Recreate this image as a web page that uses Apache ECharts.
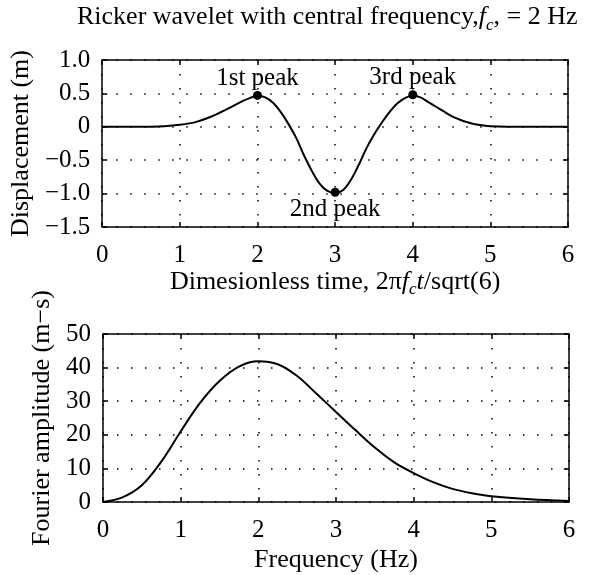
<!DOCTYPE html>
<html>
<head>
<meta charset="utf-8">
<script src="https://cdn.jsdelivr.net/npm/echarts@6/dist/echarts.min.js"></script>
<style>
  html, body { margin: 0; padding: 0; background: #fff; }
  #chart { width: 594px; height: 575px; }
</style>
</head>
<body>
<div id="chart"></div>
<script>
// top panel: ricker wavelet vs dimensionless time
var timeX = [0, 0.5, 0.8, 1.0, 1.2, 1.4, 1.6, 1.8, 1.9, 2.0, 2.1, 2.2, 2.3, 2.4, 2.5, 2.6, 2.7, 2.8, 2.9, 3.0,
             3.1, 3.2, 3.3, 3.4, 3.5, 3.6, 3.7, 3.8, 3.9, 4.0, 4.1, 4.2, 4.3, 4.4, 4.5, 4.6, 4.7, 4.8, 5.0, 5.5, 6.0];
var displacement = [0, 0, 0.01, 0.03, 0.07, 0.15, 0.26, 0.38, 0.43, 0.46, 0.44, 0.36, 0.22, 0.04, -0.17, -0.43, -0.66, -0.85, -0.96, -0.99,
                    -0.95, -0.80, -0.58, -0.33, -0.12, 0.06, 0.22, 0.35, 0.43, 0.47, 0.44, 0.37, 0.30, 0.23, 0.16, 0.11, 0.07, 0.04, 0.01, 0, 0];
var peakX = [2, 3, 4];
var peakY = [0.47, -0.98, 0.48];
var peakNames = ['1st peak', '2nd peak', '3rd peak'];

// bottom panel: fourier amplitude spectrum
var freqX = [0, 0.25, 0.5, 0.75, 1.0, 1.25, 1.5, 1.75, 2.0, 2.25, 2.5, 2.75, 3.0, 3.25, 3.5, 3.75, 4.0, 4.25, 4.5, 4.75, 5.0, 5.5, 6.0];
var amplitude = [0, 1.4, 5.0, 12, 21, 29.5, 36, 40.3, 41.9, 41, 37.5, 32.2, 26.8, 21.4, 16.2, 11.8, 8.6, 5.9, 3.9, 2.6, 1.7, 0.8, 0.3];

var FONT = '"Liberation Serif", "Times New Roman", serif';
var chart = echarts.init(document.getElementById('chart'));

function zip(xs, ys) {
  return xs.map(function (x, i) { return [x, ys[i]]; });
}

var richText = {
  i: { fontFamily: FONT, fontSize: 26, fontStyle: 'italic', color: '#000' },
  sub: { fontFamily: FONT, fontSize: 17, fontStyle: 'italic', color: '#000', padding: [16, 0, 0, 0] }
};
var dotted = { color: '#000', width: 1.5, type: [1.5, 12.5] };
var black = { color: '#000', width: 1.5 };

function mainX(grid, name, nameGap) {
  return {
    type: 'value', gridIndex: grid, min: 0, max: 6, interval: 1,
    name: name, nameLocation: 'middle', nameGap: nameGap,
    nameTextStyle: { fontFamily: FONT, fontSize: 26, color: '#000', rich: richText },
    axisLine: { onZero: false, lineStyle: black },
    axisTick: { inside: true, length: 5, lineStyle: black },
    axisLabel: { fontFamily: FONT, fontSize: 25, color: '#000', margin: 16 },
    splitLine: { show: true, lineStyle: dotted }
  };
}
function mirrorX(grid) {
  return {
    type: 'value', gridIndex: grid, min: 0, max: 6, interval: 1, position: 'top',
    axisLine: { onZero: false, lineStyle: black },
    axisTick: { inside: true, length: 5, lineStyle: black },
    axisLabel: { show: false }, splitLine: { show: false }
  };
}
function mainY(grid, min, max, interval, name, nameGap, fmt) {
  return {
    type: 'value', gridIndex: grid, min: min, max: max, interval: interval,
    name: name, nameLocation: 'middle', nameGap: nameGap,
    nameTextStyle: { fontFamily: FONT, fontSize: 26, color: '#000' },
    axisLine: { onZero: false, lineStyle: black },
    axisTick: { inside: true, length: 5, lineStyle: black },
    axisLabel: { fontFamily: FONT, fontSize: 25, color: '#000', margin: 12, formatter: fmt },
    splitLine: { show: true, lineStyle: dotted }
  };
}
function mirrorY(grid, min, max, interval) {
  return {
    type: 'value', gridIndex: grid, min: min, max: max, interval: interval, position: 'right',
    axisLine: { onZero: false, lineStyle: black },
    axisTick: { inside: true, length: 5, lineStyle: black },
    axisLabel: { show: false }, splitLine: { show: false }
  };
}

var option = {
  backgroundColor: '#fff',
  animation: false,
  title: {
    text: 'Ricker wavelet with central frequency,{i|f}{sub|c}, = 2 Hz',
    left: 72, top: -4,
    textStyle: { fontFamily: FONT, fontSize: 26, fontWeight: 'normal', color: '#000', rich: richText }
  },
  grid: [
    { left: 101, right: 26, top: 60, height: 167 },
    { left: 103, right: 25, top: 334, height: 168 }
  ],
  xAxis: [
    mainX(0, 'Dimesionless time, 2π{i|f}{sub|c}{i|t}/sqrt(6)', 38),
    mirrorX(0),
    mainX(1, 'Frequency (Hz)', 45),
    mirrorX(1)
  ],
  yAxis: [
    mainY(0, -1.5, 1.0, 0.5, 'Displacement (m)', 66, function (v) {
      return v === 0 ? '0' : v.toFixed(1).replace('-', '\u2212');
    }),
    mirrorY(0, -1.5, 1.0, 0.5),
    mainY(1, 0, 50, 10, 'Fourier amplitude (m\u2212s)', 46, null),
    mirrorY(1, 0, 50, 10)
  ],
  series: [
    {
      type: 'line', xAxisIndex: 0, yAxisIndex: 0, smooth: 0.35, symbol: 'none',
      lineStyle: { color: '#000', width: 2 },
      data: zip(timeX, displacement)
    },
    {
      type: 'scatter', xAxisIndex: 0, yAxisIndex: 0, symbolSize: 9,
      itemStyle: { color: '#000', opacity: 1 },
      label: {
        show: true, fontFamily: FONT, fontSize: 25, color: '#000', opacity: 1,
        formatter: function (p) { return peakNames[p.dataIndex]; }
      },
      data: zip(peakX, peakY).map(function (d, i) {
        return { value: d, label: { position: i === 1 ? 'bottom' : 'top', distance: 0 } };
      })
    },
    {
      type: 'line', xAxisIndex: 2, yAxisIndex: 2, smooth: 0.35, symbol: 'none',
      lineStyle: { color: '#000', width: 2 },
      data: zip(freqX, amplitude)
    }
  ]
};
chart.setOption(option);
</script>
</body>
</html>
